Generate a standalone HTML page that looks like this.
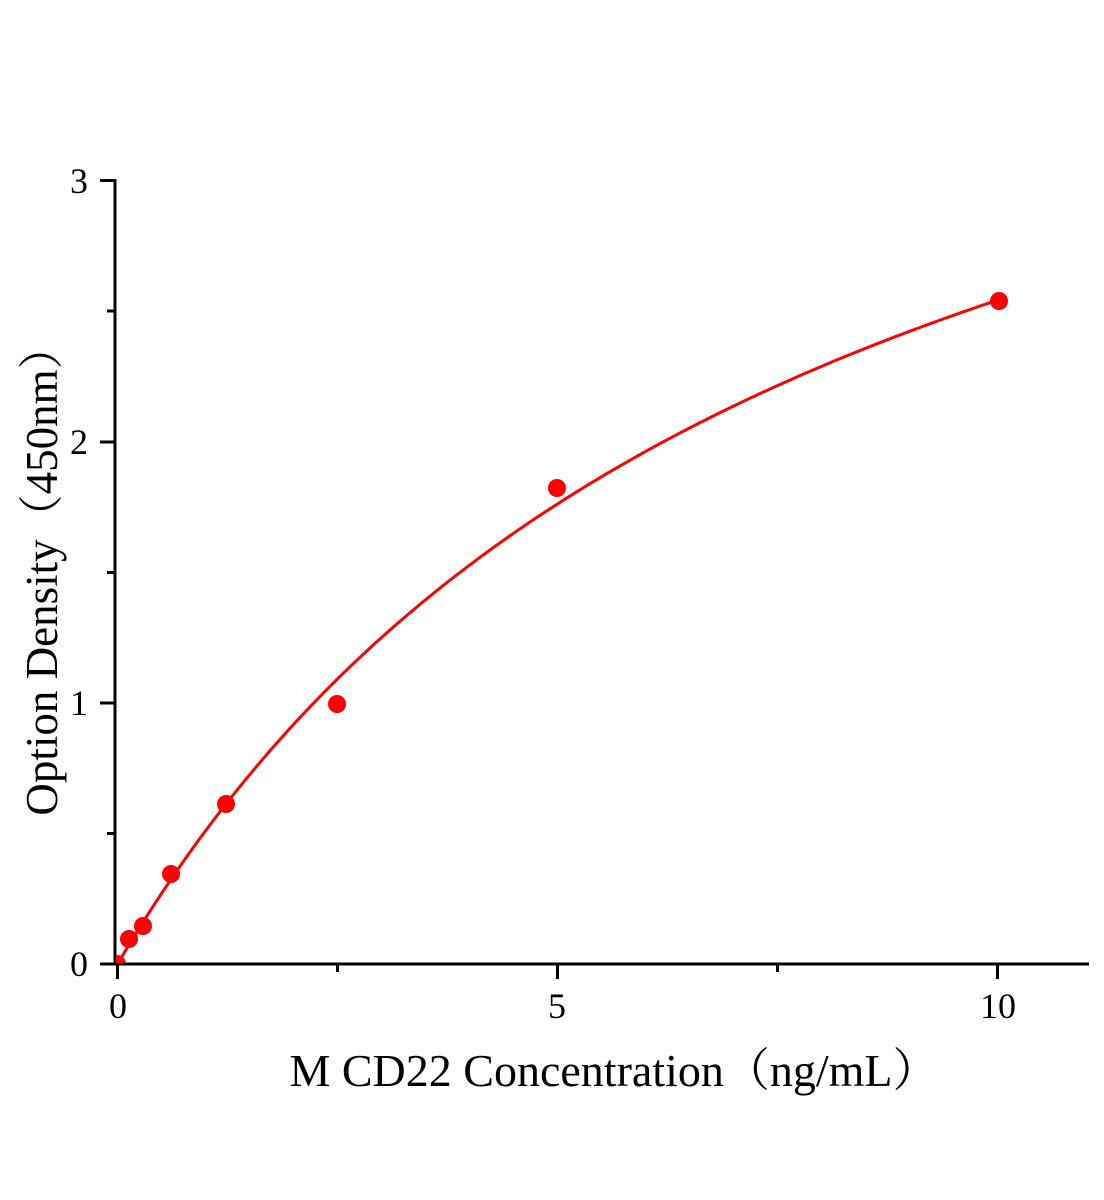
<!DOCTYPE html>
<html><head><meta charset="utf-8"><style>
html,body{margin:0;padding:0;background:#fff}
svg{display:block}
text{font-family:"Liberation Serif","Noto Serif CJK SC",serif;fill:#000}
</style></head><body>
<svg width="1104" height="1200" viewBox="0 0 1104 1200" xmlns="http://www.w3.org/2000/svg">
<defs><clipPath id="pa"><rect x="116" y="100" width="1000" height="863"/></clipPath></defs>
<g stroke="#000" stroke-width="3" fill="none">
<line x1="115" y1="179" x2="115" y2="965"/>
<line x1="114" y1="964" x2="1089" y2="964"/>
<line x1="100" y1="180.5" x2="115" y2="180.5"/>
<line x1="100" y1="442" x2="115" y2="442"/>
<line x1="100" y1="703" x2="115" y2="703"/>
<line x1="100" y1="964" x2="115" y2="964"/>
<line x1="107" y1="311" x2="115" y2="311"/>
<line x1="107" y1="572.5" x2="115" y2="572.5"/>
<line x1="107" y1="833.5" x2="115" y2="833.5"/>
<line x1="117.5" y1="964" x2="117.5" y2="979"/>
<line x1="557.5" y1="964" x2="557.5" y2="979"/>
<line x1="997.5" y1="964" x2="997.5" y2="979"/>
<line x1="337.5" y1="964" x2="337.5" y2="972"/>
<line x1="777.5" y1="964" x2="777.5" y2="972"/>
</g>
<g font-size="36" text-anchor="end">
<text x="88" y="193">3</text>
<text x="88" y="454">2</text>
<text x="88" y="715">1</text>
<text x="88" y="976">0</text>
</g>
<g font-size="36" text-anchor="middle">
<text x="118" y="1018">0</text>
<text x="557" y="1018">5</text>
<text x="998" y="1018">10</text>
</g>
<text x="614" y="1086" font-size="46" text-anchor="middle">M CD22 Concentration（ng/mL）</text>
<text transform="translate(57,570) rotate(-90)" font-size="45" text-anchor="middle">Option Density（450nm）</text>
<g clip-path="url(#pa)">
<path id="c" fill="none" stroke="#f00" stroke-width="3"/>
<g fill="#f00">
<circle cx="117" cy="964" r="9"/>
<circle cx="129" cy="939" r="9"/>
<circle cx="143" cy="926" r="9"/>
<circle cx="171" cy="874" r="9"/>
<circle cx="226" cy="804" r="9"/>
<circle cx="337" cy="704" r="9"/>
<circle cx="557" cy="488" r="9"/>
<circle cx="999" cy="301" r="9"/>
</g>
</g>
</svg>
<script>
var d="";for(var i=0;i<=200;i++){var x=i*10/200;var y=4.56*x/(7.95+x);var px=117.5+88*x,py=964-261.3*y;d+=(i?"L":"M")+px.toFixed(1)+" "+py.toFixed(1);}
document.getElementById("c").setAttribute("d",d);
</script>
</body></html>
